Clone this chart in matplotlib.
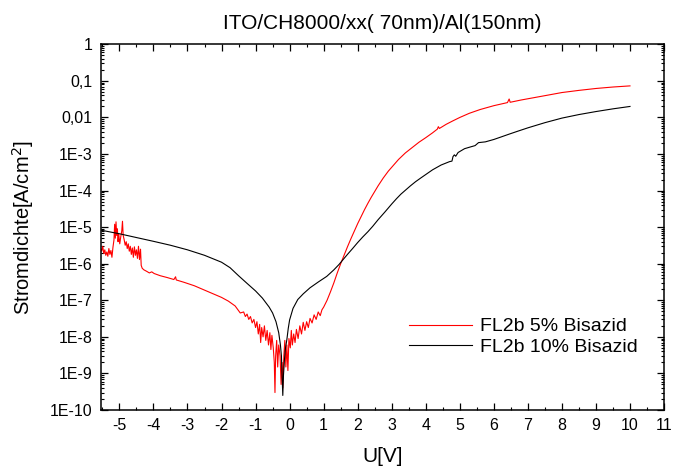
import matplotlib.pyplot as plt
import numpy as np
from matplotlib.ticker import LogLocator, MultipleLocator, NullFormatter

plt.rcParams['font.family'] = ['Liberation Sans', 'DejaVu Sans']
plt.rcParams['axes.unicode_minus'] = False

# FL2b 5% Bisazid (red), voltage in V, current density in A/cm^2
red_u = [-5.55, -5.52, -5.49, -5.46, -5.43, -5.40, -5.37, -5.34, -5.31, -5.28,
         -5.25, -5.22, -5.19, -5.16, -5.14, -5.12, -5.10, -5.08, -5.06, -5.04,
         -5.02, -4.99, -4.96, -4.93, -4.91, -4.89, -4.86, -4.83, -4.80, -4.77,
         -4.74, -4.71, -4.68, -4.65, -4.62, -4.59, -4.56, -4.53, -4.50, -4.47,
         -4.44, -4.41, -4.38, -4.36, -4.33, -4.28, -4.20, -4.12, -4.05, -3.98,
         -3.80, -3.60, -3.40, -3.35, -3.33, -3.10, -2.80, -2.50, -2.20, -2.00,
         -1.80, -1.60, -1.45, -1.35, -1.30, -1.25, -1.20, -1.15, -1.10, -1.05,
         -1.00, -0.96, -0.92, -0.88, -0.85, -0.82, -0.78, -0.74, -0.70, -0.66,
         -0.62, -0.58, -0.55, -0.52, -0.48, -0.45, -0.43, -0.41, -0.38, -0.35,
         -0.32, -0.28, -0.25, -0.22, -0.20, -0.17, -0.14, -0.11, -0.08, -0.05,
         -0.02, 0.02, 0.05, 0.08, 0.12, 0.16, 0.20, 0.25, 0.30, 0.35,
         0.40, 0.45, 0.50, 0.55, 0.60, 0.66, 0.72, 0.78, 0.84, 0.90,
         0.95, 1.00, 1.10, 1.20, 1.30, 1.40, 1.50, 1.60, 1.70, 1.80,
         1.90, 2.00, 2.10, 2.20, 2.30, 2.40, 2.50, 2.60, 2.75, 2.90,
         3.05, 3.20, 3.40, 3.60, 3.80, 4.00, 4.20, 4.34, 4.37, 4.40,
         4.60, 4.80, 5.00, 5.28, 5.60, 6.00, 6.40, 6.45, 6.48, 6.80,
         7.20, 7.60, 8.00, 8.50, 9.00, 9.50, 10.0]
red_j = [2.6e-6, 2.2e-6, 3.0e-6, 1.9e-6, 2.4e-6, 1.7e-6, 2.1e-6, 1.6e-6, 2.6e-6, 1.8e-6,
         2.3e-6, 1.5e-6, 2.8e-6, 4.5e-6, 1.2e-5, 5.0e-6, 1.4e-5, 6.0e-6, 9.0e-6, 4.0e-6,
         6.5e-6, 3.5e-6, 5.5e-6, 8.0e-6, 1.45e-5, 6.0e-6, 4.5e-6, 3.2e-6, 4.0e-6, 2.6e-6,
         3.5e-6, 2.2e-6, 3.0e-6, 1.8e-6, 2.7e-6, 1.5e-6, 2.9e-6, 1.7e-6, 2.4e-6, 1.4e-6,
         3.0e-6, 1.3e-6, 2.5e-6, 9.0e-7, 7.5e-7, 6.8e-7, 6.2e-7, 5.6e-7, 6.0e-7, 5.4e-7,
         4.7e-7, 4.2e-7, 3.7e-7, 4.4e-7, 3.6e-7, 3.1e-7, 2.5e-7, 1.9e-7, 1.45e-7, 1.2e-7,
         9.5e-8, 7.0e-8, 4.5e-8, 4.8e-8, 3.6e-8, 4.2e-8, 3.0e-8, 3.6e-8, 2.4e-8, 3.0e-8,
         1.8e-8, 2.6e-8, 1.2e-8, 2.2e-8, 7.0e-9, 1.8e-8, 1.0e-8, 2.0e-8, 8.0e-9, 1.5e-8,
         6.0e-9, 1.3e-8, 4.5e-9, 1.1e-8, 5.0e-9, 2.0e-9, 3.0e-10, 3.0e-9, 8.0e-9, 1.5e-9,
         6.0e-9, 3.0e-9, 5.0e-10, 2.0e-9, 4.0e-10, 3.0e-9, 8.0e-9, 1.5e-9, 6.0e-9, 1.2e-9,
         9.0e-9, 5.0e-9, 1.5e-8, 6.0e-9, 1.2e-8, 7.0e-9, 1.6e-8, 9.0e-9, 2.0e-8, 1.2e-8,
         2.5e-8, 1.5e-8, 2.6e-8, 1.8e-8, 3.2e-8, 2.4e-8, 4.0e-8, 3.0e-8, 4.8e-8, 3.8e-8,
         5.5e-8, 6.5e-8, 1.0e-7, 1.7e-7, 3.0e-7, 5.6e-7, 1.0e-6, 1.7e-6, 2.9e-6, 4.8e-6,
         7.8e-6, 1.25e-5, 1.95e-5, 3.0e-5, 4.5e-5, 6.6e-5, 9.5e-5, 1.35e-4, 2.2e-4, 3.4e-4,
         4.9e-4, 7.1e-4, 1.07e-3, 1.5e-3, 2.1e-3, 2.8e-3, 3.8e-3, 4.8e-3, 5.6e-3, 5.0e-3,
         6.5e-3, 8.1e-3, 1.0e-2, 1.3e-2, 1.65e-2, 2.1e-2, 2.55e-2, 3.2e-2, 2.6e-2, 3.0e-2,
         3.5e-2, 4.1e-2, 4.8e-2, 5.5e-2, 6.2e-2, 6.8e-2, 7.3e-2]

# FL2b 10% Bisazid (black)
black_u = [-5.55, -5.0, -4.5, -4.0, -3.5, -3.0, -2.5, -2.0, -1.75, -1.5,
           -1.25, -1.0, -0.8, -0.6, -0.5, -0.4, -0.32, -0.27, -0.24, -0.22,
           -0.20, -0.18, -0.15, -0.12, -0.08, -0.04, 0.0, 0.1, 0.24, 0.4,
           0.6, 0.85, 1.09, 1.3, 1.45, 1.56, 1.7, 1.85, 2.0, 2.15,
           2.3, 2.44, 2.6, 2.8, 3.0, 3.14, 3.27, 3.4, 3.55, 3.7,
           3.85, 4.0, 4.2, 4.45, 4.70, 4.77, 4.80, 4.84, 4.88, 4.95,
           5.05, 5.14, 5.3, 5.45, 5.55, 5.75, 6.0, 6.2, 6.45, 6.7,
           7.0, 7.5, 8.0, 8.5, 9.0, 9.5, 10.0]
black_j = [8.3e-6, 6.6e-6, 5.2e-6, 4.1e-6, 3.2e-6, 2.4e-6, 1.7e-6, 1.1e-6, 7.8e-7, 4.7e-7,
           2.9e-7, 1.8e-7, 1.15e-7, 6.5e-8, 4.5e-8, 2.6e-8, 1.3e-8, 6.0e-9, 3.0e-9, 8.0e-10,
           2.5e-10, 9.0e-10, 2.5e-9, 5.0e-9, 8.5e-9, 1.7e-8, 2.9e-8, 6.0e-8, 1.05e-7, 1.5e-7,
           2.2e-7, 3.2e-7, 4.5e-7, 6.8e-7, 9.5e-7, 1.26e-6, 1.8e-6, 2.6e-6, 3.8e-6, 5.4e-6,
           7.5e-6, 1.05e-5, 1.6e-5, 2.6e-5, 4.3e-5, 6.0e-5, 8.0e-5, 1.02e-4, 1.35e-4, 1.75e-4,
           2.2e-4, 2.75e-4, 3.7e-4, 5.0e-4, 6.2e-4, 6.4e-4, 8.5e-4, 9.5e-4, 8.7e-4, 1.1e-3,
           1.25e-3, 1.4e-3, 1.55e-3, 1.7e-3, 2.05e-3, 2.15e-3, 2.5e-3, 2.9e-3, 3.5e-3, 4.2e-3,
           5.2e-3, 7.2e-3, 9.6e-3, 1.2e-2, 1.45e-2, 1.72e-2, 2.0e-2]

y_ticks = [1e-10, 1e-9, 1e-8, 1e-7, 1e-6, 1e-5, 1e-4, 1e-3, 1e-2, 1e-1, 1]
y_labels = ['1E-10', '1E-9', '1E-8', '1E-7', '1E-6', '1E-5', '1E-4', '1E-3', '0,01', '0,1', '1']

fig = plt.figure(figsize=(6.74, 4.69), dpi=100)
ax = fig.add_axes([0.1494, 0.1258, 0.8358, 0.7797])

ax.plot(red_u, red_j, color='#ff0000', lw=0.8, label='FL2b 5% Bisazid')
ax.plot(black_u, black_j, color='black', lw=0.8, label='FL2b 10% Bisazid')

ax.set_yscale('log')
ax.set_xlim(-5.55, 11)
ax.set_ylim(1e-10, 1)
ax.set_yticks(y_ticks)
ax.set_yticklabels(y_labels)
ax.yaxis.set_minor_locator(LogLocator(base=10, subs=np.arange(2, 10), numticks=20))
ax.yaxis.set_minor_formatter(NullFormatter())
ax.xaxis.set_major_locator(MultipleLocator(1))
ax.xaxis.set_minor_locator(MultipleLocator(0.5))

ax.tick_params(which='both', direction='in', top=True, right=True, labelsize=11.5)
ax.tick_params(which='major', length=5, width=0.9)
ax.tick_params(which='minor', length=2.5, width=0.8)
ax.tick_params(axis='y', pad=6)
ax.tick_params(axis='x', pad=6)
for s in ax.spines.values():
    s.set_linewidth(1.1)

ax.set_title('ITO/CH8000/xx( 70nm)/Al(150nm)', fontsize=15, pad=11)
ax.set_xlabel('U[V]', fontsize=15, labelpad=10)
ax.set_ylabel('Stromdichte[A/cm$^2$]', fontsize=14.5, labelpad=10)

ax.legend(loc='upper left', bbox_to_anchor=(0.516, 0.30), frameon=False,
          fontsize=14, handlelength=3.25, handletextpad=0.4, labelspacing=0.15)

fig.savefig('out.png', dpi=100)
